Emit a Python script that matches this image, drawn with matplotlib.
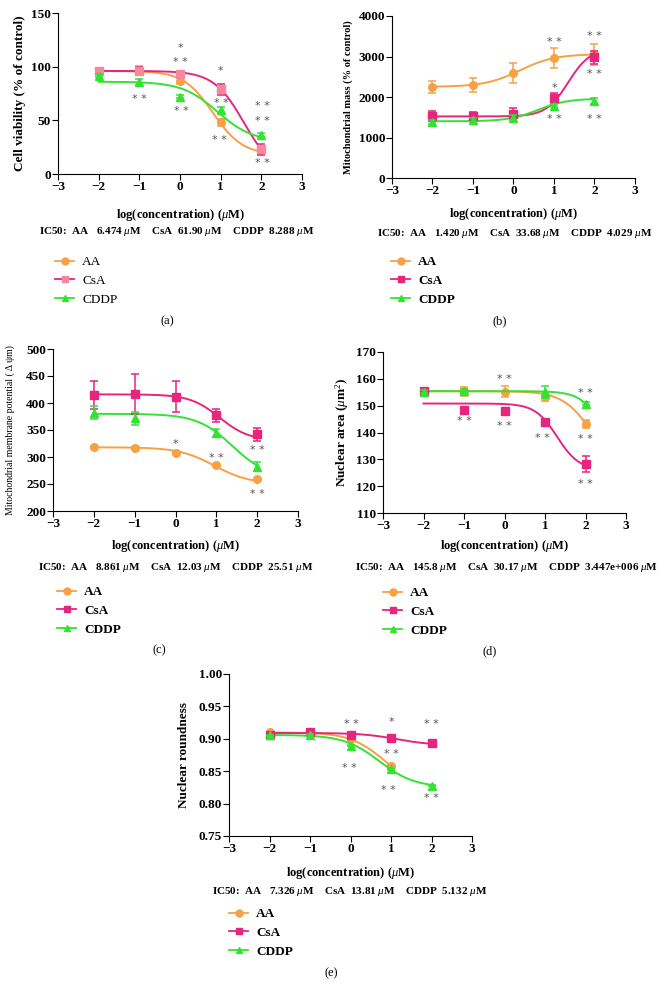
import numpy as np
import matplotlib
matplotlib.use("Agg")
import matplotlib.pyplot as plt
from matplotlib.lines import Line2D

plt.rcParams["font.family"] = ["Liberation Serif", "DejaVu Serif"]
plt.rcParams["mathtext.fontset"] = "custom"
plt.rcParams["mathtext.rm"] = "Liberation Serif"
plt.rcParams["mathtext.it"] = "Liberation Serif:italic"
plt.rcParams["mathtext.bf"] = "Liberation Serif:bold"

# ── Colores ───────────────────────────────────────────────────────────────────
ORANGE = "#F7A044"
MAGENTA = "#E6257F"
PINK = "#F4899A"
GREEN = "#33E233"
STAR = "#555555"

# ── Datos ─────────────────────────────────────────────────────────────────────
log_conc = [-2, -1, 0, 1, 2]
series_names = ["AA", "CsA", "CDDP"]

# (a) viabilidad celular
a_aa = [96, 97, 87, 48, 22]
a_aa_err = [3, 4, 3, 3, 3]
a_csa = [96, 96, 93, 79, 23]
a_csa_err = [3, 4, 3, 5, 5]
a_cddp = [91.5, 85.5, 72, 60, 36.5]
a_cddp_err = [1.5, 3, 1.5, 2, 2]

# (b) masa mitocondrial
b_aa = [2252, 2293, 2598, 2961, 3052]
b_aa_err = [150, 180, 240, 240, 250]
b_csa = [1526, 1526, 1592, 1979, 2977]
b_csa_err = [130, 100, 130, 130, 170]
b_cddp = [1386, 1427, 1485, 1790, 1905]
b_cddp_err = [50, 50, 60, 40, 80]

# (c) potencial de membrana mitocondrial
c_aa = [319, 316, 307, 285, 260]
c_aa_err = [2, 2, 2, 2, 2]
c_csa = [415, 416, 412, 377, 342]
c_csa_err = [26, 37, 29, 12, 12]
c_cddp = [382, 372, np.nan, 344, 282]
c_cddp_err = [12, 12, 0, 7, 8]

# (d) área nuclear
d_aa = [155.3, 155.3, 155.2, 153.2, 143.0]
d_aa_err = [0.8, 1.8, 2.0, 1.5, 1.5]
d_csa = [155.3, 148.5, 148.1, 143.9, 128.1]
d_csa_err = [0.5, 0.8, 0.8, 0.8, 3.0]
d_cddp = [155.2, 155.5, np.nan, 155.2, 150.7]
d_cddp_err = [0.5, 0.8, 0, 2.2, 0.5]

# (e) redondez nuclear
e_aa = [0.910, 0.910, 0.899, 0.858, np.nan]
e_aa_err = [0.001, 0.001, 0.001, 0.001, 0]
e_csa = [0.906, 0.910, 0.9055, 0.9008, 0.894]
e_csa_err = [0.001, 0.001, 0.001, 0.001, 0.001]
e_cddp = [0.9055, 0.906, 0.8895, 0.853, 0.8275]
e_cddp_err = [0.001, 0.001, 0.001, 0.001, 0.001]

# Parámetros de las curvas ajustadas: [y izquierda, y derecha, logIC50, pendiente]
a_fits = [[96, 18, 0.81, 1.2], [96, 0, 1.57, 1.17], [86, 30, 0.92, 1.0]]
b_fits = [[2250, 3060, 0.15, 1.0], [1520, 3200, 1.35, 1.6], [1400, 1960, 0.6, 1.2]]
c_fits = [[318, 250, 0.95, 1.0], [416, 330, 1.08, 1.2], [380, 260, 1.4, 1.0]]
d_fits = [[155.4, 125, 2.16, 1.2], [150.8, 126, 1.3, 1.6], [155.4, 100, 2.69, 1.5]]
e_fits = [[0.910, 0.820, 0.865, 1.0], [0.909, 0.890, 1.14, 1.0], [0.906, 0.825, 0.71, 1.0]]
e_fit_xmax = [1, 2, 2]

# Asteriscos de significación: (x, y, texto)
a_stars = [(0, 117, "*"), (0, 104.5, "* *"), (-1, 70, "* *"), (0.04, 59, "* *"),
           (1, 96, "*"), (1.02, 66, "* *"), (0.96, 32, "* *"),
           (2.02, 63, "* *"), (2.02, 49.5, "* *"), (2.02, 10, "* *")]
b_stars = [(1, 3365, "* *"), (1, 2210, "*"), (1, 1452, "* *"),
           (2, 3513, "* *"), (2, 2565, "* *"), (2, 1452, "* *")]
c_stars = [(0, 324, "*"), (1, 298, "* *"), (2, 312.6, "* *"), (2, 231.5, "* *")]
d_stars = [(0, 160, "* *"), (-1, 144.1, "* *"), (0, 142.6, "* *"), (0.94, 138.1, "* *"),
           (1.99, 154.7, "* *"), (1.99, 137.7, "* *"), (1.99, 120.9, "* *")]
e_stars = [(0.01, 0.9225, "* *"), (-0.03, 0.8543, "* *"), (1.01, 0.9256, "*"),
           (1.01, 0.8766, "* *"), (0.93, 0.8208, "* *"), (2.0, 0.9225, "* *"),
           (2.0, 0.8094, "* *")]

a_ic50 = ["6.474", "61.90", "8.288"]
b_ic50 = ["1.420", "33.68", "4.029"]
c_ic50 = ["8.861", "12.03", "25.51"]
d_ic50 = ["145.8", "30.17", "3.447e+006"]
e_ic50 = ["7.326", "13.81", "5.132"]

W, H = 666, 998


def px_rect(l, r, t, b):
    return [l / W, 1 - b / H, (r - l) / W, (b - t) / H]


def curve(p, x):
    y_left, y_right, logic, hill = p
    return y_right + (y_left - y_right) / (1 + 10 ** (hill * (x - logic)))


def draw_panel(ax, values, errs, fits, stars, ylim, yticks, ylabel, ylabel_kw,
               marker_colors, fit_xmax=(2, 2, 2), yfmt=None, xlabelpad=6):
    line_colors = [ORANGE, MAGENTA, GREEN]
    markers = ["o", "s", "^"]
    order = [0, 2, 1]
    for i in order:
        xs = np.linspace(-2, fit_xmax[i], 200)
        ax.plot(xs, curve(fits[i], xs), color=line_colors[i], lw=1.4, zorder=2 + i)
        ax.errorbar(log_conc, values[i], yerr=errs[i], fmt=markers[i], ms=5.5,
                    color=marker_colors[i], ecolor=line_colors[i],
                    elinewidth=1.1, capsize=3, capthick=1.1, zorder=3 + i)
    for x, y, s in stars:
        ax.text(x, y, s, ha="center", va="center", fontsize=8, color=STAR,
                family="DejaVu Sans")
    ax.set_xlim(-3, 3)
    ax.set_ylim(*ylim)
    ax.set_xticks(range(-3, 4))
    ax.set_yticks(yticks)
    if yfmt:
        ax.set_yticklabels([yfmt.format(v) for v in yticks])
    for sp in ["top", "right"]:
        ax.spines[sp].set_visible(False)
    ax.tick_params(direction="out", length=4, width=0.8, labelsize=9.5, pad=1)
    for lab in ax.get_xticklabels() + ax.get_yticklabels():
        lab.set_fontweight("bold")
    ax.set_xlabel(r"log(concentration) ($\mu$M)", fontsize=9, fontweight="bold",
                  labelpad=xlabelpad)
    ax.set_ylabel(ylabel, **ylabel_kw)


def add_legend(fig, ax, x, y, marker_colors, bold=True):
    line_colors = [ORANGE, MAGENTA, GREEN]
    markers = ["o", "s", "^"]
    handles = [Line2D([], [], color=line_colors[i], marker=markers[i], ms=5,
                      mfc=marker_colors[i], mec=marker_colors[i], lw=1.3)
               for i in range(3)]
    ax.legend(handles, series_names, loc="upper left",
              bbox_to_anchor=(x / W, 1 - y / H), bbox_transform=fig.transFigure,
              frameon=False, prop={"size": 9.5, "weight": "bold" if bold else "normal"},
              handlelength=1.45, handletextpad=0.6, labelspacing=0.5,
              borderpad=0, borderaxespad=0)


def add_ic50(fig, x, y, vals):
    txt = (rf"IC50:  AA   {vals[0]} $\mu$M    CsA  {vals[1]} $\mu$M    "
           rf"CDDP  {vals[2]} $\mu$M")
    fig.text(x / W, 1 - y / H, txt, ha="center", va="center", fontsize=8,
             fontweight="bold")


fig = plt.figure(figsize=(6.66, 9.98), dpi=100)

# (a)
ax_a = fig.add_axes(px_rect(58, 302, 13, 174))
draw_panel(ax_a, [a_aa, a_csa, a_cddp], [a_aa_err, a_csa_err, a_cddp_err], a_fits,
           a_stars, (0, 150), [0, 50, 100, 150], "Cell viability (% of control)",
           dict(fontsize=9.5, fontweight="bold", labelpad=4),
           [ORANGE, PINK, GREEN], xlabelpad=10)
add_ic50(fig, 177, 232, a_ic50)
add_legend(fig, ax_a, 55, 256, [ORANGE, PINK, GREEN], bold=False)
fig.text(167 / W, 1 - 321 / H, "(a)", ha="center", va="center", fontsize=9)

# (b)
ax_b = fig.add_axes(px_rect(392, 635, 16, 178))
draw_panel(ax_b, [b_aa, b_csa, b_cddp], [b_aa_err, b_csa_err, b_cddp_err], b_fits,
           b_stars, (0, 4000), [0, 1000, 2000, 3000, 4000],
           "Mitochondrial mass (% of control)",
           dict(fontsize=7.5, fontweight="bold", labelpad=4),
           [ORANGE, MAGENTA, GREEN], xlabelpad=6.5)
add_ic50(fig, 515, 233, b_ic50)
add_legend(fig, ax_b, 391, 256, [ORANGE, MAGENTA, GREEN])
fig.text(500 / W, 1 - 321 / H, "(b)", ha="center", va="center", fontsize=9)

# (c)
ax_c = fig.add_axes(px_rect(53, 298, 349, 511))
draw_panel(ax_c, [c_aa, c_csa, c_cddp], [c_aa_err, c_csa_err, c_cddp_err], c_fits,
           c_stars, (200, 500), [200, 250, 300, 350, 400, 450, 500],
           "Mitochondrial membrane potential ( \u0394 \u03c8m)",
           dict(fontsize=7, labelpad=8),
           [ORANGE, MAGENTA, GREEN], xlabelpad=5.5)
add_ic50(fig, 176, 567, c_ic50)
add_legend(fig, ax_c, 57, 586, [ORANGE, MAGENTA, GREEN])
fig.text(159 / W, 1 - 650 / H, "(c)", ha="center", va="center", fontsize=9)

# (d)
ax_d = fig.add_axes(px_rect(383, 626, 352, 513))
draw_panel(ax_d, [d_aa, d_csa, d_cddp], [d_aa_err, d_csa_err, d_cddp_err], d_fits,
           d_stars, (110, 170), [110, 120, 130, 140, 150, 160, 170],
           r"Nuclear area ($\mu$m$^2$)",
           dict(fontsize=9.5, fontweight="bold", labelpad=4),
           [ORANGE, MAGENTA, GREEN], xlabelpad=4.5)
add_ic50(fig, 507, 567, d_ic50)
add_legend(fig, ax_d, 383, 587, [ORANGE, MAGENTA, GREEN])
fig.text(490 / W, 1 - 651 / H, "(d)", ha="center", va="center", fontsize=9)

# (e)
ax_e = fig.add_axes(px_rect(229, 472, 674, 836))
draw_panel(ax_e, [e_aa, e_csa, e_cddp], [e_aa_err, e_csa_err, e_cddp_err], e_fits,
           e_stars, (0.75, 1.0), [0.75, 0.80, 0.85, 0.90, 0.95, 1.00],
           "Nuclear roundness",
           dict(fontsize=9.5, fontweight="bold", labelpad=6),
           [ORANGE, MAGENTA, GREEN], fit_xmax=e_fit_xmax, yfmt="{:.2f}",
           xlabelpad=7)
add_ic50(fig, 350, 892, e_ic50)
add_legend(fig, ax_e, 229, 908, [ORANGE, MAGENTA, GREEN])
fig.text(331 / W, 1 - 973 / H, "(e)", ha="center", va="center", fontsize=9)

fig.savefig("out.png", dpi=100)
